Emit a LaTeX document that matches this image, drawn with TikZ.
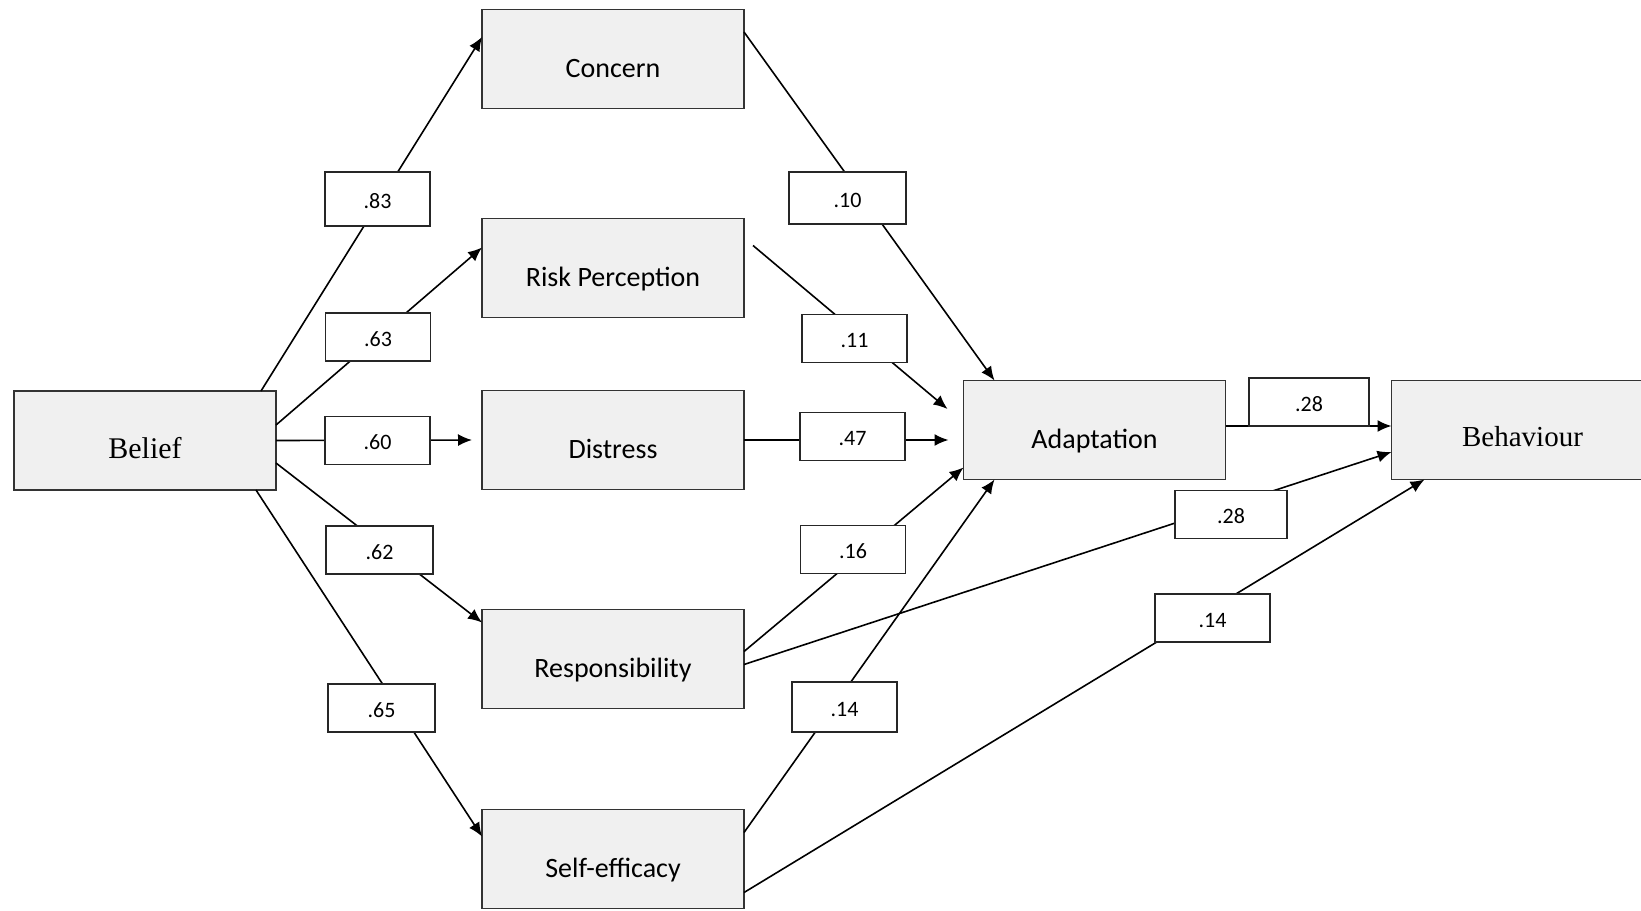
\documentclass[tikz,border=0pt]{standalone}
\usepackage{fontspec}
\setmainfont{Carlito}
\newfontfamily\serifface{Liberation Serif}
\usepackage{xcolor}
\usepackage{tikz}
\usetikzlibrary{arrows.meta, positioning}
\definecolor{boxgray}{HTML}{F0F0F0}

\begin{document}
\begin{tikzpicture}[x=0.5pt, y=-0.5pt]
\tikzstyle{var} = [rectangle, draw=black!80, line width=0.9pt, fill=boxgray, minimum width=131pt, minimum height=49.5pt, inner sep=0pt, outer sep=0pt, text height=18pt, text depth=0pt, font=\fontsize{14}{16}\selectfont]
\tikzstyle{coef} = [rectangle, draw=black!85, line width=0.9pt, fill=white, minimum width=52.5pt, minimum height=24pt, inner sep=0pt, text height=9pt, text depth=0pt, font=\fontsize{11}{13}\selectfont]
\tikzstyle{link} = [line width=0.8pt, -{Latex[length=7pt, width=6pt]}]

\useasboundingbox (0,0) rectangle (1641,910);

% variables
\node (concern) [var] at (613,59) {Concern};
\node (risk) [var, below=55pt of concern] {Risk Perception};
\node (distress) [var, below=36.5pt of risk] {Distress};
\node (resp) [var, below=60pt of distress] {Responsibility};
\node (selfeff) [var, below=50.5pt of resp] {Self-efficacy};
\node (belief) [var, font=\serifface\fontsize{15}{17}\selectfont] at (145,440.5) {Belief};
\node (adapt) [var] at (1094.5,430) {Adaptation};
\node (behav) [var, right=83pt of adapt, text height=16.5pt, font=\serifface\fontsize{14.5}{17}\selectfont] {Behaviour};

% paths
\draw[link] ([xshift=-7.5pt]belief.north east) -- ([yshift=11pt]concern.west);
\draw[link] ([yshift=7.75pt]belief.east) -- ([yshift=10.25pt]risk.west);
\draw[link, shorten >=5pt] (belief.east) -- (distress.west);
\draw[link] ([yshift=-11.25pt]belief.east) -- ([yshift=18.25pt]resp.west);
\draw[link] ([xshift=-10pt]belief.south east) -- ([yshift=11.25pt]selfeff.west);

\draw[link] ([yshift=13.5pt]concern.east) -- ([xshift=15.5pt]adapt.north west);
\draw[link] ([xshift=4.5pt, yshift=11.25pt]risk.east) -- ([xshift=-8pt, yshift=10.5pt]adapt.west);
\draw[link, shorten >=7.5pt] (distress.east) -- (distress.east -| adapt.west);
\draw[link] ([yshift=3.75pt]resp.east) -- ([yshift=6pt]adapt.south west);
\draw[link] ([yshift=13.25pt]selfeff.east) -- ([xshift=15.5pt]adapt.south west);

\draw[link] ([yshift=2pt]adapt.east) -- ([yshift=2pt]behav.west);
\draw[link] ([yshift=-2.75pt]resp.east) -- ([yshift=-11pt]behav.west);
\draw[link] ([yshift=-16.75pt]selfeff.east) -- ([xshift=16.5pt]behav.south west);

% coefficients
\node (c83) [coef, minimum height=27pt] at (377.5,199) {.83};
\node (c63) [coef] at (378,337) {.63};
\node (c60) [coef] at (377.5,440.5) {.60};
\node (c62) [coef, minimum width=53.5pt] at (379.5,550) {.62};
\node (c65) [coef, minimum width=53.5pt] at (381.5,708) {.65};
\node (c10) [coef, minimum width=58.5pt, minimum height=26pt] at (847.5,198) {.10};
\node (c11) [coef] at (854.5,338.5) {.11};
\node (c47) [coef] at (852.5,436.5) {.47};
\node (c16) [coef] at (853,549.5) {.16};
\node (c14a) [coef, minimum height=25pt] at (844.5,707) {.14};
\node (c28a) [coef, minimum width=60pt] at (1309,402) {.28};
\node (c28b) [coef, minimum width=56pt] at (1231,514.5) {.28};
\node (c14b) [coef, minimum width=57.5pt] at (1212.5,618) {.14};

\end{tikzpicture}
\end{document}
